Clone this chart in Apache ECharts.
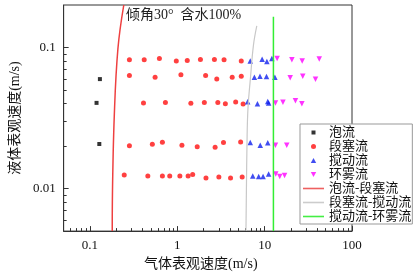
<!DOCTYPE html>
<html>
<head>
<meta charset="utf-8">
<script src="https://cdn.jsdelivr.net/npm/echarts@6/dist/echarts.min.js"></script>
<style>
  html, body { margin: 0; padding: 0; background: #fff; }
  #chart { width: 416px; height: 276px; }
</style>
</head>
<body>
<div id="chart"></div>
<script>
// flow pattern points [gas velocity, liquid velocity] (m/s)
const bubble = [[0.130, 0.0597], [0.119, 0.0405], [0.128, 0.0207]];
const slug = [
  [0.283, 0.0818], [0.418, 0.0818], [0.624, 0.0836], [0.974, 0.0801], [1.30, 0.0810],
  [1.84, 0.0822], [2.66, 0.0822], [3.43, 0.0818], [5.40, 0.0801],
  [0.283, 0.0633], [0.557, 0.0616], [1.10, 0.0640], [2.11, 0.0633], [2.83, 0.0598],
  [4.25, 0.0616], [5.40, 0.0625],
  [0.410, 0.0405], [0.731, 0.0407], [1.43, 0.0402], [2.04, 0.0407], [2.91, 0.0407],
  [3.55, 0.0400], [4.66, 0.0411], [5.67, 0.0397],
  [0.283, 0.0201], [0.518, 0.0206], [0.675, 0.0213], [1.13, 0.0203], [1.69, 0.0198],
  [2.71, 0.0196], [3.38, 0.0212], [5.31, 0.0214],
  [0.247, 0.0125], [0.460, 0.0123], [0.675, 0.0123], [0.819, 0.0123], [1.07, 0.0123],
  [1.33, 0.0123], [1.50, 0.0126], [2.13, 0.0119], [2.99, 0.0121], [4.07, 0.0119], [5.53, 0.0121]
];
const churn = [
  [6.84, 0.0803], [9.36, 0.0827], [10.6, 0.0797], [12.1, 0.0836],
  [7.63, 0.0616], [8.84, 0.0625], [10.5, 0.0622], [13.1, 0.0616],
  [6.38, 0.0412], [8.27, 0.0399], [10.85, 0.0414], [11.1, 0.0405],
  [6.84, 0.0212], [8.90, 0.0203], [10.85, 0.0211],
  [7.31, 0.0123], [8.54, 0.0122], [9.59, 0.0122], [11.1, 0.0127]
];
const annular = [
  [13.9, 0.0837], [20.5, 0.0818], [26.9, 0.0801], [42.2, 0.0830],
  [19.6, 0.0610], [27.3, 0.0625], [38.2, 0.0596],
  [13.3, 0.0404], [16.2, 0.0410], [22.5, 0.0420], [26.7, 0.0399],
  [13.3, 0.0203], [17.9, 0.0203],
  [13.4, 0.0127], [14.9, 0.0122], [16.9, 0.0124]
];
// transition boundaries
const bubbleSlug = [[0.244, 0.2], [0.209, 0.098], [0.190, 0.033], [0.181, 0.0092], [0.180, 0.005]];
const slugChurn = [[8.13, 0.142], [7.44, 0.1035], [6.84, 0.0585], [6.46, 0.0382], [6.30, 0.0238], [6.11, 0.005]];
const churnAnnular = [[12.6, 0.165], [12.6, 0.005]];

const xMajor = [0.1, 1, 10, 100];
const xMinor = [0.06, 0.07, 0.08, 0.09, 0.2, 0.3, 0.4, 0.5, 0.6, 0.7, 0.8, 0.9,
  2, 3, 4, 5, 6, 7, 8, 9, 20, 30, 40, 50, 60, 70, 80, 90];
const yMajor = [0.01, 0.1];
const yMinor = [0.006, 0.007, 0.008, 0.009, 0.02, 0.03, 0.04, 0.05, 0.06, 0.07, 0.08, 0.09];

const serif = "'Liberation Serif', 'Noto Sans CJK SC', serif";
// legend icons padded to the full 21x5 icon box so they are not stretched
const iconBox = 'path://M0,0 M21,5 ';
const rectIcon = iconBox + 'M8.5,0.5 L12.5,0.5 L12.5,4.5 L8.5,4.5 Z';
const circleIcon = iconBox + 'M8,2.5 A2.5,2.5 0 1 1 13,2.5 A2.5,2.5 0 1 1 8,2.5 Z';
const triIcon = iconBox + 'M10.5,0 L13.2,5 L7.8,5 Z';
const invTriIcon = iconBox + 'M10.5,5 L13.2,0 L7.8,0 Z';
const lineIcon = iconBox + 'M0,1.7 L21,1.7 L21,3.3 L0,3.3 Z';
const chart = echarts.init(document.getElementById('chart'));

const baseAxis = (min, max) => ({
  type: 'log',
  min: min,
  max: max,
  splitLine: { show: false },
  axisLine: { lineStyle: { color: '#333', width: 1 } },
  axisTick: { inside: true, length: 5, lineStyle: { color: '#333' } },
  axisLabel: { color: '#111', fontSize: 13, fontFamily: serif }
});

chart.setOption({
  animation: false,
  title: {
    text: '倾角30°  含水100%',
    left: 121, top: 3,
    textStyle: { fontSize: 14, fontWeight: 'normal', color: '#222', fontFamily: serif }
  },
  grid: { left: 44, right: 64, top: 5, bottom: 37, show: true, borderColor: '#333', borderWidth: 1 },
  xAxis: [
    Object.assign(baseAxis(0.05, 100), {
      position: 'bottom',
      name: '气体表观速度(m/s)',
      nameLocation: 'middle',
      nameGap: 20,
      nameTextStyle: { fontSize: 14, color: '#111', fontFamily: serif, padding: [0, 14, 0, 0] },
      axisTick: { inside: true, length: 5, customValues: xMajor, lineStyle: { color: '#333' } },
      axisLabel: { color: '#111', fontSize: 13, fontFamily: serif, customValues: xMajor, formatter: v => String(v) }
    }),
    Object.assign(baseAxis(0.05, 100), {
      position: 'bottom',
      axisLine: { show: false },
      axisLabel: { show: false },
      axisTick: { inside: true, length: 3, customValues: xMinor, lineStyle: { color: '#333' } }
    })
  ],
  yAxis: [
    Object.assign(baseAxis(0.005, 0.2), {
      position: 'left',
      name: '液体表观速度(m/s)',
      nameLocation: 'middle',
      nameGap: 33,
      nameTextStyle: { fontSize: 14, color: '#111', fontFamily: serif },
      axisTick: { inside: true, length: 5, customValues: yMajor, lineStyle: { color: '#333' } },
      axisLabel: { color: '#111', fontSize: 13, fontFamily: serif, customValues: yMajor, formatter: v => String(v) }
    }),
    Object.assign(baseAxis(0.005, 0.2), {
      position: 'left',
      axisLine: { show: false },
      axisLabel: { show: false },
      axisTick: { inside: true, length: 3, customValues: yMinor, lineStyle: { color: '#333' } }
    })
  ],
  legend: {
    orient: 'vertical',
    left: 300, top: 124,
    padding: [2, 1, 1, 3],
    itemGap: 1,
    itemWidth: 21,
    itemHeight: 5,
    backgroundColor: '#fff',
    borderColor: '#999',
    borderWidth: 1,
    textStyle: { fontSize: 13, color: '#111', fontFamily: serif },
    data: [
      { name: '泡流', icon: rectIcon },
      { name: '段塞流', icon: circleIcon },
      { name: '搅动流', icon: triIcon },
      { name: '环雾流', icon: invTriIcon },
      { name: '泡流-段塞流', icon: lineIcon },
      { name: '段塞流-搅动流', icon: lineIcon },
      { name: '搅动流-环雾流', icon: lineIcon }
    ]
  },
  series: [
    { name: '泡流', type: 'scatter', data: bubble, symbol: 'rect', symbolSize: 4, itemStyle: { color: '#000' } },
    { name: '段塞流', type: 'scatter', data: slug, symbol: 'circle', symbolSize: 5, itemStyle: { color: '#ff1010' } },
    { name: '搅动流', type: 'scatter', data: churn, symbol: 'triangle', symbolSize: 5.5, itemStyle: { color: '#1020ee' } },
    { name: '环雾流', type: 'scatter', data: annular, symbol: 'triangle', symbolRotate: 180, symbolSize: 5.5, itemStyle: { color: '#ff00ff' } },
    { name: '泡流-段塞流', type: 'line', data: bubbleSlug, symbol: 'none', smooth: 0.4, lineStyle: { color: '#ee4040', width: 1.5 }, itemStyle: { color: '#ee6060' } },
    { name: '段塞流-搅动流', type: 'line', data: slugChurn, symbol: 'none', smooth: 0.4, lineStyle: { color: '#c8c8c8', width: 1.2 }, itemStyle: { color: '#cccccc' } },
    { name: '搅动流-环雾流', type: 'line', data: churnAnnular, symbol: 'none', lineStyle: { color: '#33ee33', width: 1.5 }, itemStyle: { color: '#44ee44' } }
  ]
});
</script>
</body>
</html>
